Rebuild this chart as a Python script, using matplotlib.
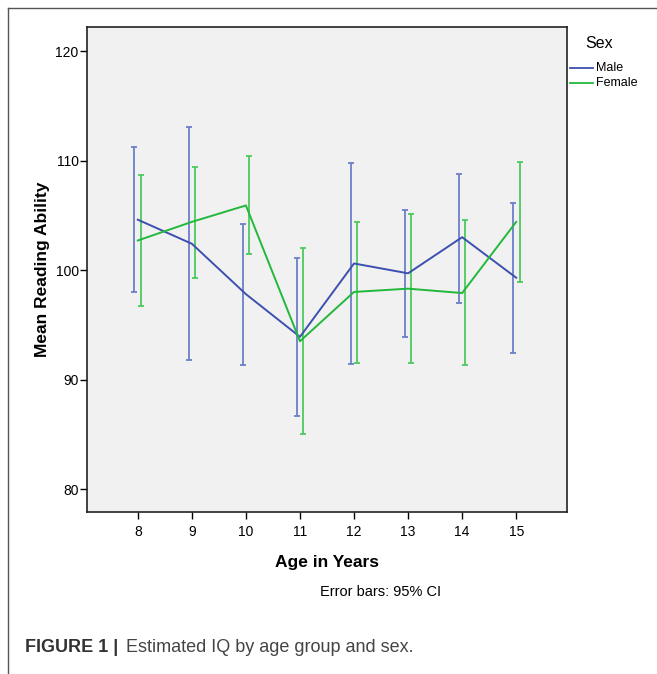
import matplotlib
matplotlib.use('Agg')
import matplotlib.pyplot as plt
from matplotlib.lines import Line2D
import numpy as np

plt.rcParams['font.family'] = ['Liberation Sans', 'DejaVu Sans']

# data
ages = [8, 9, 10, 11, 12, 13, 14, 15]
male_mean = [104.6, 102.4, 97.8, 93.9, 100.6, 99.7, 103.0, 99.3]
male_lo = [98.0, 91.8, 91.3, 86.7, 91.4, 93.9, 97.0, 92.4]
male_hi = [111.2, 113.1, 104.2, 101.1, 109.8, 105.5, 108.8, 106.1]
female_mean = [102.7, 104.4, 105.9, 93.5, 98.0, 98.3, 97.9, 104.4]
female_lo = [96.7, 99.3, 101.5, 85.0, 91.5, 91.5, 91.3, 98.9]
female_hi = [108.7, 109.4, 110.4, 102.0, 104.4, 105.1, 104.6, 109.9]

male_line = '#3d50b0'
male_bar = '#6b80c8'
female_line = '#22b83c'
female_bar = '#4cc95e'

W, H = 657, 674
fig = plt.figure(figsize=(W / 100, H / 100), dpi=100)

def fx(px):
    return px / W

def fy(py):
    return 1 - py / H

ax = fig.add_axes([fx(87), fy(512), fx(567) - fx(87), fy(27) - fy(512)])
ax.set_facecolor('#f1f1f1')

x = np.array(ages, dtype=float)
off = 0.062

# error bars (slightly offset from the means)
ax.errorbar(x - off, male_mean,
            yerr=[np.array(male_mean) - np.array(male_lo), np.array(male_hi) - np.array(male_mean)],
            fmt='none', ecolor=male_bar, elinewidth=1.3, capsize=2.5, capthick=1.3, zorder=2)
ax.errorbar(x + off, female_mean,
            yerr=[np.array(female_mean) - np.array(female_lo), np.array(female_hi) - np.array(female_mean)],
            fmt='none', ecolor=female_bar, elinewidth=1.3, capsize=2.5, capthick=1.3, zorder=2)

# mean lines
ax.plot(x, male_mean, color=male_line, lw=1.4, zorder=3)
ax.plot(x, female_mean, color=female_line, lw=1.4, zorder=3)

ax.set_xlim(7.06, 15.94)
ax.set_ylim(77.9, 122.2)
ax.set_xticks(ages)
ax.set_yticks([80, 90, 100, 110, 120])
ax.tick_params(direction='out', length=5, width=1, labelsize=10)
ax.tick_params(axis='y', pad=1)
ax.tick_params(axis='x', pad=4)
for s in ax.spines.values():
    s.set_linewidth(1.2)
    s.set_color('#222222')

ax.set_xlabel('Age in Years', fontsize=12.5, fontweight='bold', labelpad=12)
ax.set_ylabel('Mean Reading Ability', fontsize=12.5, fontweight='bold', labelpad=4)

# legend drawn by hand on the right
fig.text(fx(599), fy(43), 'Sex', fontsize=11.5, ha='center', va='center')
fig.add_artist(Line2D([fx(570), fx(593)], [fy(68), fy(68)], color=male_line, lw=1.3))
fig.add_artist(Line2D([fx(570), fx(593)], [fy(83), fy(83)], color=female_line, lw=1.3))
fig.text(fx(596), fy(68), 'Male', fontsize=9, ha='left', va='center')
fig.text(fx(596), fy(83), 'Female', fontsize=9, ha='left', va='center')

fig.text(fx(381), fy(592), 'Error bars: 95% CI', fontsize=10.5, ha='center', va='center')

# figure frame
fig.add_artist(Line2D([fx(8), fx(657)], [fy(8), fy(8)], color='#555555', lw=1.0))
fig.add_artist(Line2D([fx(8), fx(8)], [fy(8), fy(674)], color='#555555', lw=1.0))

fig.text(fx(25), fy(648), 'FIGURE 1 |', fontsize=13, fontweight='bold', ha='left', va='center', color='#333333')
fig.text(fx(126), fy(648), 'Estimated IQ by age group and sex.', fontsize=13, ha='left', va='center', color='#444444')

fig.savefig('out.png', dpi=100)
